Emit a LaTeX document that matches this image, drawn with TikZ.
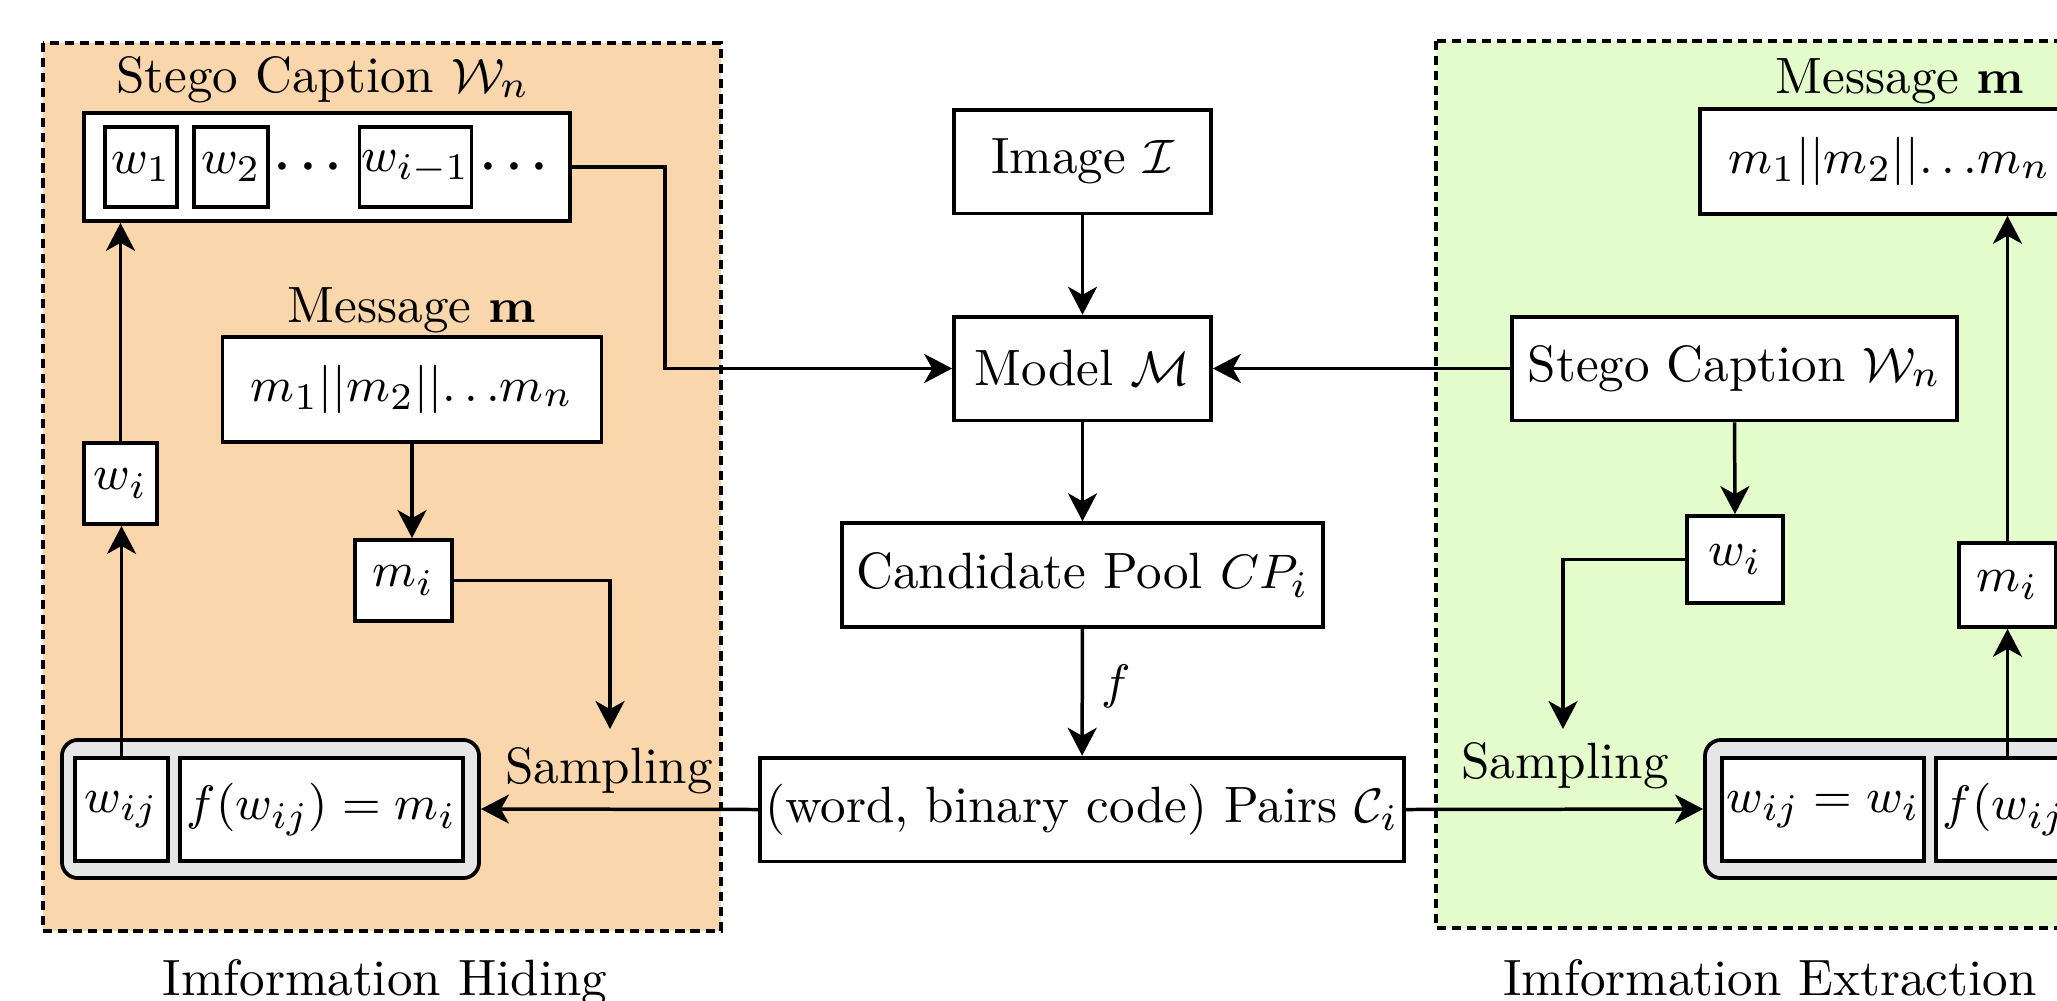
\documentclass[tikz,border=0pt]{standalone}
\usepackage{amsmath, amssymb}
\usepackage{tikz}
\usetikzlibrary{arrows.meta}

\definecolor{hidefill}{RGB}{249,214,172}
\definecolor{extractfill}{RGB}{228,252,204}
\definecolor{pairfill}{RGB}{230,230,230}

\begin{document}
\begin{tikzpicture}[
		x=0.186pt, y=-0.186pt,                     % 以像素为单位，y 轴向下
		font=\fontsize{9.5pt}{11.4pt}\selectfont,
		box/.style={draw, fill=white, line width=0.7pt, inner sep=1pt, minimum height=19.3pt},
		cell/.style={draw, fill=white, line width=0.7pt, inner sep=0.3pt},   % 组合框中的小格
		pairbox/.style={draw, fill=pairfill, line width=0.7pt, rounded corners=3pt, minimum height=25.7pt},
		region/.style={draw, dash pattern=on 1.7pt off 1.1pt, line width=0.6pt},
		arr/.style={-{Stealth[length=5.2pt, width=5.4pt, inset=1.5pt]}, line width=0.65pt}
		]
		\useasboundingbox (0,0) rectangle (2057,1000);
		\clip (0,0) rectangle (2057,1000);
		
		% 两个虚线区域
		\draw[region, fill=hidefill] (43,43) rectangle (721,931);
		\draw[region, fill=extractfill] (1436,41) rectangle (2300,928);
		
		% 左侧：信息隐藏
		\node[anchor=base] (capLtitle) at (323,92) {Stego Caption $\mathcal{W}_n$};
		\node[box, minimum width=90.4pt, minimum height=20.1pt] (capL) at (327,167) {};
		\node[cell, minimum width=13.4pt, minimum height=14.9pt] (w1) at (141,167) {$w_1$};
		\node[cell, minimum width=13.8pt, minimum height=14.9pt] (w2) at (231,167) {$w_2$};
		\node (dotsA) at (313,167) {$\boldsymbol{\cdots}$};
		\node[cell, minimum width=20.6pt, minimum height=14.9pt] (wim1) at (415.5,167) {$w_{i-1}$};
		\node (dotsB) at (519,167) {$\boldsymbol{\cdots}$};
		
		\node[anchor=base] (msgLtitle) at (412,322) {Message $\mathbf{m}$};
		\node[box, minimum width=70.5pt, minimum height=19.5pt] (msgL) at (412,389.5) {$m_1||m_2||{\ldots}m_n$};
		\node[box, minimum width=18pt, minimum height=15.1pt] (miL) at (403.5,580.5) {$m_i$};
		\node[box, minimum width=13.6pt, minimum height=15.1pt] (wiL) at (120.5,483.5) {$w_i$};
		
		\node[pairbox, minimum width=77.6pt] (comboL) at (270.5,809) {};
		\node[cell, minimum width=17.3pt, minimum height=19.2pt] (wijL) at (121.5,809.5) {$w_{ij}$};
		\node[cell, minimum width=52.6pt, minimum height=19.2pt] (fL) at (321.5,809.5) {$f(w_{ij}) = m_i$};
		\node[anchor=base] (sampL) at (609,783) {Sampling};
		\node[anchor=base] (hideL) at (385,995) {Imformation Hiding};
		
		% 中间：模型与候选池
		\node[box, minimum width=47.8pt] (image) at (1082.5,161.5) {Image $\mathcal{I}$};
		\node[box, minimum width=47.8pt] (model) at (1082.5,368.5) {Model $\mathcal{M}$};
		\node[box, minimum width=89.5pt] (cand) at (1082.5,575) {Candidate Pool $CP_i$};
		\node[box, minimum width=119.4pt] (pairs) at (1082,809.5) {(word, binary code) Pairs $\mathcal{C}_i$};
		
		% 右侧：信息提取
		\node[anchor=base] (msgRtitle) at (1900,93) {Message $\mathbf{m}$};
		\node[box, minimum width=70.5pt, minimum height=19.5pt] (msgR) at (1889.5,161.5) {$m_1||m_2||{\ldots}m_n$};
		\node[box, minimum width=82.8pt] (stego) at (1734.5,368.5) {Stego Caption $\mathcal{W}_n$};
		\node[box, minimum width=17.9pt, minimum height=16.2pt] (wiR) at (1735,559.5) {$w_i$};
		\node[box, minimum width=18pt, minimum height=15.6pt] (miR) at (2007.5,585) {$m_i$};
		
		\node[pairbox, minimum width=98.6pt] (comboR) at (1970,809) {};
		\node[cell, minimum width=37.6pt, minimum height=19.2pt] (wijR) at (1823,809.5) {$w_{ij} = w_i$};
		\node[cell, minimum width=52.6pt, minimum height=19.2pt] (fR) at (2077.5,809.5) {$f(w_{ij}) = m_i$};
		\node[anchor=base] (sampR) at (1565,778) {Sampling};
		\node[anchor=base] (hideR) at (1770,995) {Imformation Extraction};
		
		% 折线的拐点和采样箭头的终点
		\coordinate (bendL) at (665,368.5);
		\coordinate (sampInL) at (610,729);
		\coordinate (sampInR) at (1563,729);
		
		% 连线
		\draw[arr] (capL.east) -| (bendL) -- (model.west);
		\draw[arr] (image) -- (model);
		\draw[arr] (model) -- (cand);
		\draw[arr] (cand) -- node[right, pos=0.45] {$f$} (pairs);
		\draw[arr] (pairs.west) -- (comboL.east);
		\draw[arr] (pairs.east) -- (comboR.west);
		\draw[arr] (msgL.south) -- (msgL.south |- miL.north);
		\draw[arr] (miL.east) -| (sampInL);
		\draw[arr] (wijL.north) -- (wijL.north |- wiL.south);
		\draw[arr] (wiL.north) -- (wiL.north |- capL.south);
		\draw[arr] (stego.west) -- (model.east);
		\draw[arr] (stego.south) -- (wiR.north);
		\draw[arr] (wiR.west) -| (sampInR);
		\draw[arr] (miR.south |- fR.north) -- (miR.south);
		\draw[arr] (miR.north) -- (miR.north |- msgR.south);
	\end{tikzpicture}
\end{document}
